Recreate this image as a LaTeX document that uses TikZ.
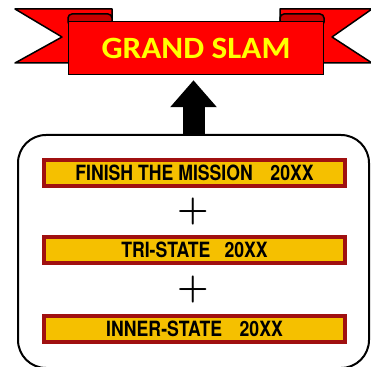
\documentclass[tikz,border=0pt]{standalone}
\usepackage{fontspec}
\usepackage{graphicx}
\usetikzlibrary{arrows.meta}

\newfontfamily\bannerfont{Carlito}
\newfontfamily\platefont{TeX Gyre Heros}

\definecolor{ribbonred}{RGB}{255,0,0}
\definecolor{rolldark}{RGB}{200,0,0}
\definecolor{slamyellow}{RGB}{255,255,0}
\definecolor{plategold}{RGB}{245,192,0}
\definecolor{plateedge}{RGB}{160,16,16}

\newcommand{\platetext}[1]{\scalebox{0.84}[1]{#1}}

\tikzset{
  tail/.style={fill=ribbonred, draw=black, line width=1.5pt, line join=round},
  roll/.style={fill=rolldark, draw=black, line width=1.5pt, rounded corners=4pt},
  banner/.style={fill=ribbonred, draw=black, line width=1.5pt, inner sep=0pt,
    minimum width=255pt, minimum height=53pt, text=slamyellow,
    font=\bannerfont\bfseries\fontsize{31}{31}\selectfont},
  frame/.style={draw=black, line width=2pt, rounded corners=28pt,
    minimum width=351pt, minimum height=233pt},
  plate/.style={fill=plategold, draw=plateedge, line width=4pt, inner sep=0pt,
    minimum width=301pt, minimum height=26pt,
    font=\platefont\bfseries\fontsize{21}{21}\selectfont},
  plus/.style={inner sep=0pt, font=\bfseries\fontsize{36}{36}\selectfont},
  uparrow/.style={line width=22pt, -{Triangle[width=45pt, length=27pt]}}
}

\begin{document}
\begin{tikzpicture}[x=1pt, y=1pt]
\useasboundingbox (0,0) rectangle (371,366);

% Ribbon tails
\filldraw[tail] (15,357) -- (112,357) -- (112,303) -- (15,303) -- (62,329) -- cycle;
\filldraw[tail] (372,357) -- (280,357) -- (280,303) -- (372,303) -- (332,329) -- cycle;

% Rolls
\filldraw[roll] (68,340) rectangle (112,352);
\filldraw[roll] (280,340) rectangle (324,352);

% Banner
\node[banner] (slam) at (196,318) {\scalebox{1.07}[1]{GRAND SLAM}};

% Frame and arrow
\node[frame] (frame) at (193.5,114.5) {};
\draw[uparrow, shorten >=5pt] (frame.north) -- (frame.north |- slam.south);

% Plates
\node[plate] (mission) at (194.5,193) {\platetext{FINISH THE MISSION\hspace{1em}20XX}};
\node[plate] (tristate) at (194.5,116) {\platetext{TRI-STATE\hspace{0.8em}20XX}};
\node[plate] (innerstate) at (194.5,37) {\platetext{INNER-STATE\hspace{1em}20XX}};

% Plus signs
\node[plus] (plusA) at (193,154) {+};
\node[plus] (plusB) at (193,76) {+};
\end{tikzpicture}
\end{document}
